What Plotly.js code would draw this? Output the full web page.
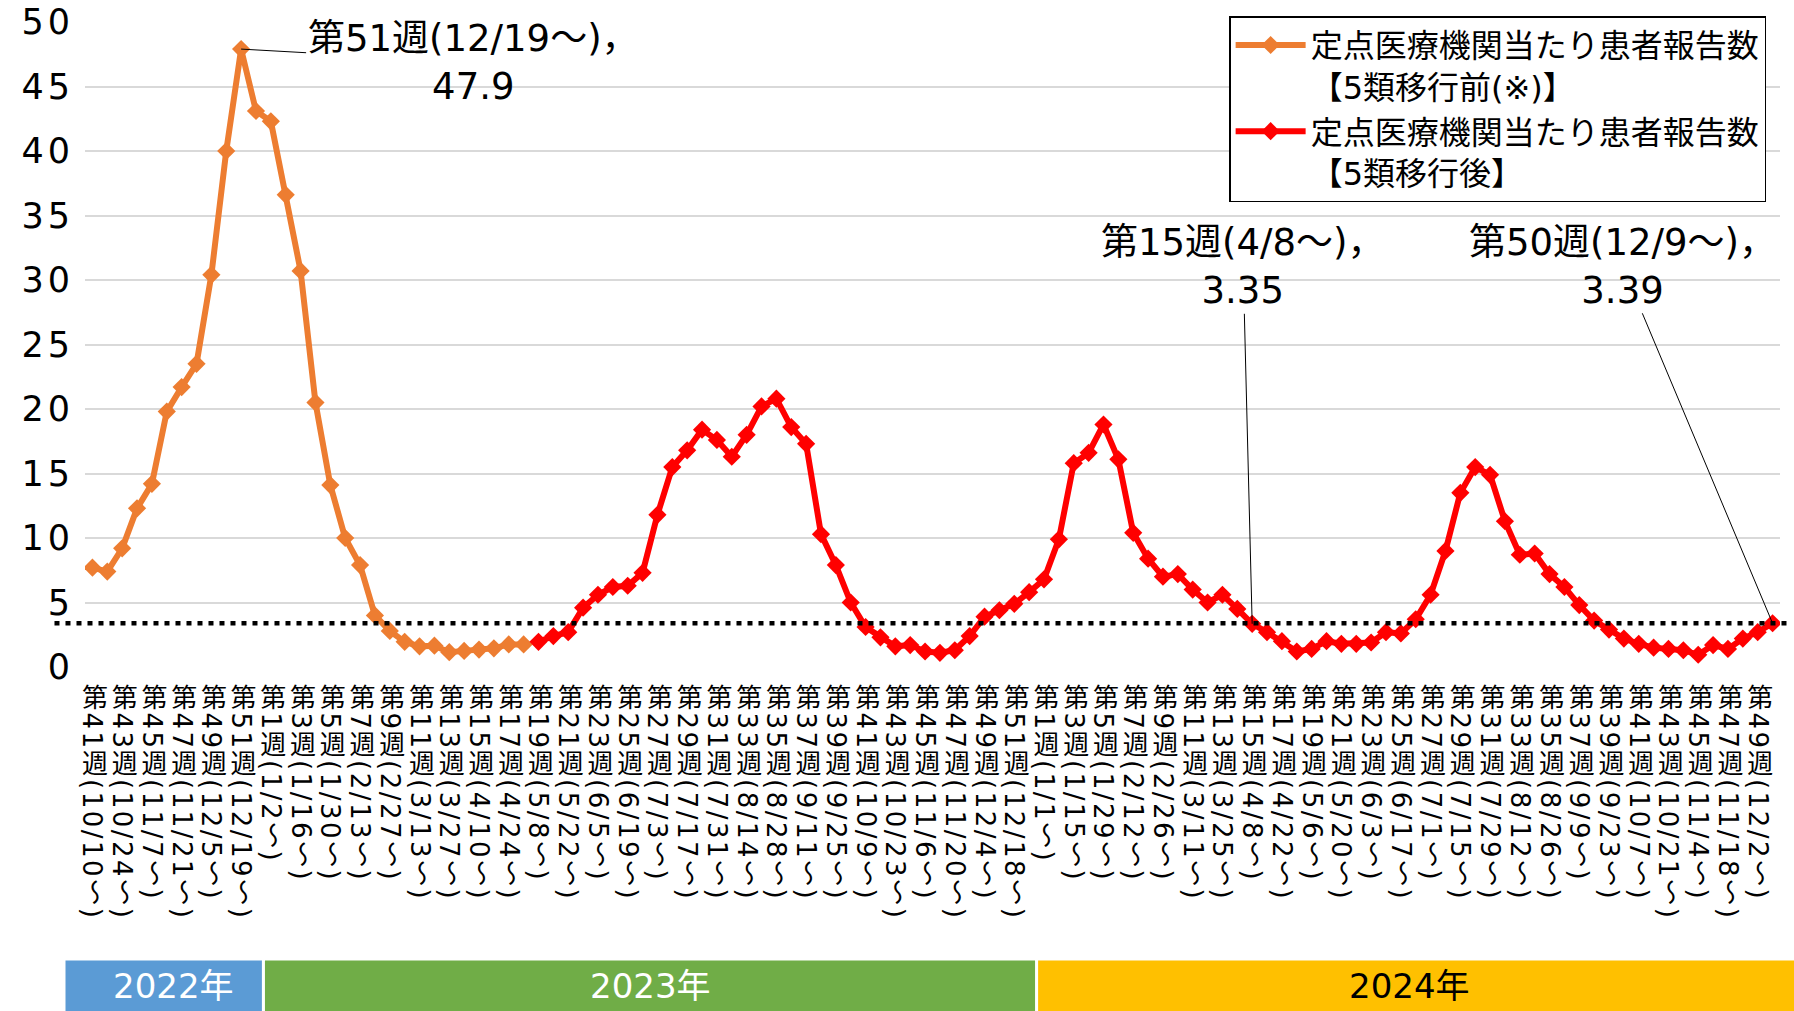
<!DOCTYPE html>
<html>
<head>
<meta charset="utf-8">
<script src="https://cdn.plot.ly/plotly-3.0.1.min.js"></script>
<style>
html, body { margin: 0; padding: 0; background: #ffffff; }
#chart { width: 1794px; height: 1011px; }
#chart .xtick text { writing-mode: vertical-rl; text-orientation: mixed; text-anchor: start; letter-spacing: 2.5px; }
#chart .ytick text { letter-spacing: 4px; }
</style>
</head>
<body>
<div id="chart"></div>
<script>
// ---- week labels (categories) ----
const weeks2022 = ["第41週(10/10～)","第42週(10/17～)","第43週(10/24～)","第44週(10/31～)","第45週(11/7～)","第46週(11/14～)","第47週(11/21～)","第48週(11/28～)","第49週(12/5～)","第50週(12/12～)","第51週(12/19～)","第52週(12/26～)"];
const weeks2023 = ["第1週(1/2～)","第2週(1/9～)","第3週(1/16～)","第4週(1/23～)","第5週(1/30～)","第6週(2/6～)","第7週(2/13～)","第8週(2/20～)","第9週(2/27～)","第10週(3/6～)","第11週(3/13～)","第12週(3/20～)","第13週(3/27～)","第14週(4/3～)","第15週(4/10～)","第16週(4/17～)","第17週(4/24～)","第18週(5/1～)","第19週(5/8～)","第20週(5/15～)","第21週(5/22～)","第22週(5/29～)","第23週(6/5～)","第24週(6/12～)","第25週(6/19～)","第26週(6/26～)","第27週(7/3～)","第28週(7/10～)","第29週(7/17～)","第30週(7/24～)","第31週(7/31～)","第32週(8/7～)","第33週(8/14～)","第34週(8/21～)","第35週(8/28～)","第36週(9/4～)","第37週(9/11～)","第38週(9/18～)","第39週(9/25～)","第40週(10/2～)","第41週(10/9～)","第42週(10/16～)","第43週(10/23～)","第44週(10/30～)","第45週(11/6～)","第46週(11/13～)","第47週(11/20～)","第48週(11/27～)","第49週(12/4～)","第50週(12/11～)","第51週(12/18～)","第52週(12/25～)"];
const weeks2024 = ["第1週(1/1～)","第2週(1/8～)","第3週(1/15～)","第4週(1/22～)","第5週(1/29～)","第6週(2/5～)","第7週(2/12～)","第8週(2/19～)","第9週(2/26～)","第10週(3/4～)","第11週(3/11～)","第12週(3/18～)","第13週(3/25～)","第14週(4/1～)","第15週(4/8～)","第16週(4/15～)","第17週(4/22～)","第18週(4/29～)","第19週(5/6～)","第20週(5/13～)","第21週(5/20～)","第22週(5/27～)","第23週(6/3～)","第24週(6/10～)","第25週(6/17～)","第26週(6/24～)","第27週(7/1～)","第28週(7/8～)","第29週(7/15～)","第30週(7/22～)","第31週(7/29～)","第32週(8/5～)","第33週(8/12～)","第34週(8/19～)","第35週(8/26～)","第36週(9/2～)","第37週(9/9～)","第38週(9/16～)","第39週(9/23～)","第40週(9/30～)","第41週(10/7～)","第42週(10/14～)","第43週(10/21～)","第44週(10/28～)","第45週(11/4～)","第46週(11/11～)","第47週(11/18～)","第48週(11/25～)","第49週(12/2～)","第50週(12/9～)"];

// ---- series values ----
// before the class-5 transition: 2022 W41 .. 2023 W18
const preValues = [7.7, 7.4, 9.2, 12.3, 14.2, 19.8, 21.7, 23.5, 30.4, 40.0, 47.9, 43.1,
  42.3, 36.6, 30.7, 20.5, 14.1, 10.0, 7.9, 4.0, 2.8, 1.95, 1.6, 1.65, 1.15, 1.25, 1.35, 1.45, 1.75, 1.75];
// after the class-5 transition: 2023 W19 .. 2024 W50
const postValues = [1.95, 2.4, 2.7, 4.6, 5.6, 6.2, 6.3, 7.3, 11.8, 15.5, 16.8, 18.4, 17.6, 16.3, 18.0, 20.2, 20.8, 18.6, 17.3, 10.3, 7.9, 5.0, 3.1, 2.3, 1.6, 1.7, 1.2, 1.1, 1.3, 2.4, 3.9, 4.4, 4.9, 5.8,
  6.8, 9.9, 15.8, 16.6, 18.8, 16.1, 10.4, 8.4, 7.0, 7.2, 6.0, 5.0, 5.6, 4.5, 3.35, 2.7, 2.0, 1.2, 1.4, 2.0, 1.8, 1.8, 1.9, 2.7, 2.6, 3.7, 5.6, 9.0, 13.5, 15.5, 14.9, 11.3, 8.7, 8.8, 7.2, 6.2, 4.8, 3.6, 2.9, 2.2, 1.8, 1.5, 1.4, 1.3, 0.95, 1.7, 1.4, 2.2, 2.7, 3.39];

const seriesNames = ["定点医療機関当たり患者報告数<br>【5類移行前(※)】", "定点医療機関当たり患者報告数<br>【5類移行後】"];
const seriesColors = ["#ED7D31", "#FF0000"];

const yearNames = ["2022年", "2023年", "2024年"];
const yearColors = ["#5B9BD5", "#70AD47", "#FFC000"];
const yearTextColors = ["#FFFFFF", "#FFFFFF", "#000000"];

const yTickValues = [0, 5, 10, 15, 20, 25, 30, 35, 40, 45, 50];

// callouts: index into the full week list
const calloutWeeks = [10, 78, 113];
const calloutOffsets = [[232, 13], [-9, -357], [-150, -357]];

// ---- derived ----
const allWeeks = weeks2022.concat(weeks2023, weeks2024);
const allValues = preValues.concat(postValues);
const N = allWeeks.length;
const FONT = '"DejaVu Sans", "Noto Sans CJK JP", sans-serif';

const preX = allWeeks.slice(0, preValues.length);
const postX = allWeeks.slice(preValues.length);

const traces = [
  {
    x: preX, y: preValues, type: "scatter", mode: "lines+markers", name: seriesNames[0],
    line: { color: seriesColors[0], width: 6 },
    marker: { symbol: "diamond", size: 14, color: seriesColors[0] },
    hoverinfo: "x+y"
  },
  {
    x: postX, y: postValues, type: "scatter", mode: "lines+markers", name: seriesNames[1],
    line: { color: seriesColors[1], width: 6 },
    marker: { symbol: "diamond", size: 14, color: seriesColors[1] },
    hoverinfo: "x+y"
  }
];

const tickWeeks = allWeeks.filter((_, i) => i % 2 === 0);

const shapes = [];
const annotations = [];

// reference dotted line at the latest value
const latest = postValues[postValues.length - 1];
shapes.push({
  type: "line", xref: "paper", yref: "y", x0: -0.018, x1: 1.004, y0: latest, y1: latest,
  line: { color: "#000000", width: 4.5, dash: "5px,6px" }, layer: "above"
});

// year bands below the axis labels
const yearCounts = [weeks2022.length, weeks2023.length, weeks2024.length];
let start = 0;
yearNames.forEach((name, k) => {
  const end = start + yearCounts[k];
  let p0 = start / N, p1 = end / N;
  if (k === 0) p0 = -0.0115; else p0 += 0.0009;
  if (k === yearNames.length - 1) p1 = 1.02; else p1 -= 0.0009;
  shapes.push({
    type: "rect", xref: "paper", yref: "paper", x0: p0, x1: p1, y0: -0.455, y1: -0.55,
    fillcolor: yearColors[k], line: { width: 0 }, layer: "above"
  });
  annotations.push({
    xref: "paper", yref: "paper", x: (Math.max(p0, start / N) + Math.min(p1, end / N)) / 2, y: -0.494,
    text: name, showarrow: false, xanchor: "center", yanchor: "middle",
    font: { family: FONT, size: 34, color: yearTextColors[k] }
  });
  start = end;
});

// callouts
calloutWeeks.forEach((idx, k) => {
  annotations.push({
    x: allWeeks[idx], y: allValues[idx], xref: "x", yref: "y",
    text: allWeeks[idx] + "，<br>" + allValues[idx],
    showarrow: true, arrowhead: 0, arrowwidth: 1, arrowcolor: "#000000",
    ax: calloutOffsets[k][0], ay: calloutOffsets[k][1], standoff: 0,
    font: { family: FONT, size: 37, color: "#000000" }, align: "center"
  });
});

const layout = {
  width: 1794, height: 1011,
  margin: { l: 85, r: 14, t: 22, b: 344 },
  paper_bgcolor: "#ffffff", plot_bgcolor: "#ffffff",
  font: { family: FONT, color: "#000000" },
  showlegend: true,
  legend: {
    x: 0.675, y: 1.009, xanchor: "left", yanchor: "top",
    bordercolor: "#000000", borderwidth: 1.5, bgcolor: "#ffffff",
    font: { family: FONT, size: 32, color: "#000000" }, valign: "top", tracegroupgap: 0,
    itemwidth: 70
  },
  xaxis: {
    type: "category", categoryorder: "array", categoryarray: allWeeks,
    range: [-0.5, N - 0.5], tickmode: "array", tickvals: tickWeeks, ticktext: tickWeeks,
    tickangle: 0, tickfont: { family: FONT, size: 26, color: "#000000" }, ticklabelstandoff: -10,
    showgrid: false, zeroline: false, showline: false, ticks: "", fixedrange: true
  },
  yaxis: {
    range: [0, 50], tickmode: "array", tickvals: yTickValues,
    tickfont: { family: FONT, size: 35, color: "#000000" }, ticklabelstandoff: 10,
    ticklabeloverflow: "allow",
    gridcolor: "#D9D9D9", gridwidth: 2, zeroline: false, showline: false, ticks: "", fixedrange: true
  },
  shapes: shapes,
  annotations: annotations
};

Plotly.newPlot("chart", traces, layout, { displayModeBar: false, staticPlot: true });
</script>
</body>
</html>
